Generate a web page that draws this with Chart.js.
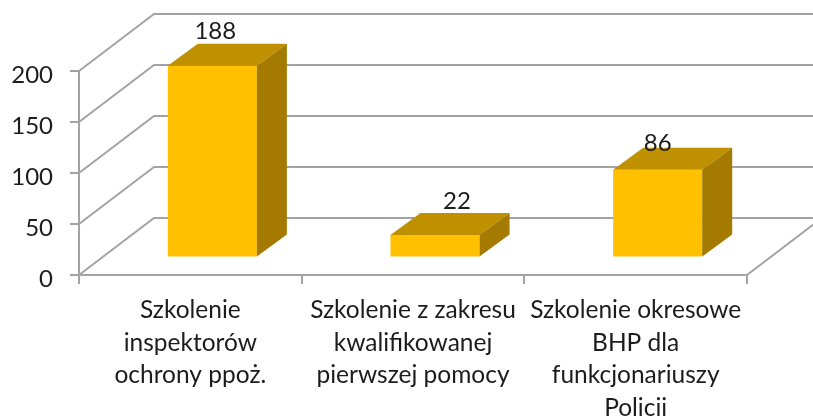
<!DOCTYPE html>
<html><head><meta charset="utf-8">
<style>html,body{margin:0;padding:0;background:#fff}canvas{display:block}</style>
<script src="https://cdn.jsdelivr.net/npm/chart.js@4"></script>
</head><body><canvas id="c" width="813" height="416"></canvas>
<script>
const categories = [
  ["Szkolenie","inspektorów","ochrony ppoż."],
  ["Szkolenie z zakresu","kwalifikowanej","pierwszej pomocy"],
  ["Szkolenie okresowe","BHP dla","funkcjonariuszy","Policji"]
];
const values = [188, 22, 86];
const yTicks = [0, 50, 100, 150, 200];
const labelShiftX = [3, 22, 0];
const labelShiftY = [-34, -34, -27];

const FONT = 'Lato, sans-serif';
const GRID = '#a3a3a3';
const TEXT = '#1c1c1c';
const depth = {x: 75, y: -57};       // wall depth
const barOffset = {x: 22, y: -17.5}; // bar position inside the floor
const barDepth = {x: 30, y: -22};

const poly = (ctx, pts, fill) => {
  ctx.beginPath();
  pts.forEach((p, i) => i ? ctx.lineTo(p[0], p[1]) : ctx.moveTo(p[0], p[1]));
  ctx.closePath(); ctx.fillStyle = fill; ctx.fill();
};

const walls = {
  id: 'walls',
  beforeDraw(chart) {
    const s = chart.scales.y;
    if (!s._shifted) {
      const orig = s.drawLabels.bind(s);
      s.drawLabels = area => {
        chart.ctx.save(); chart.ctx.translate(0, 4);
        orig(area);
        chart.ctx.restore();
      };
      s._shifted = true;
    }
  },
  beforeDatasetsDraw(chart) {
    const {ctx, chartArea: a, scales: {y}} = chart;
    ctx.save();
    ctx.strokeStyle = GRID; ctx.lineWidth = 2;
    ctx.beginPath();
    yTicks.forEach(t => {
      const py = y.getPixelForValue(t);
      ctx.moveTo(a.left, py);
      ctx.lineTo(a.left + depth.x, py + depth.y);
      ctx.lineTo(chart.width, py + depth.y);
    });
    const by = y.getPixelForValue(0);
    ctx.moveTo(a.right, by);
    ctx.lineTo(a.right + depth.x, by + depth.y);
    ctx.stroke();
    ctx.restore();
    ctx.save();
    ctx.translate(barOffset.x, barOffset.y);
  },
  afterDatasetsDraw(chart) {
    const {ctx} = chart;
    const meta = chart.getDatasetMeta(0);
    meta.data.forEach(bar => {
      const l = bar.x - bar.width / 2, r = bar.x + bar.width / 2;
      const t = bar.y, b = bar.base;
      const d = barDepth;
      poly(ctx, [[l,t],[r,t],[r+d.x,t+d.y],[l+d.x,t+d.y]], '#BF9000');
      poly(ctx, [[r,t],[r+d.x,t+d.y],[r+d.x,b+d.y],[r,b]], '#A47A00');
    });
    ctx.restore();
    ctx.save();
    ctx.fillStyle = TEXT;
    ctx.font = '24px ' + FONT;
    ctx.textAlign = 'center'; ctx.textBaseline = 'middle';
    meta.data.forEach((bar, i) => {
      ctx.fillText(String(values[i]),
        bar.x + barOffset.x + labelShiftX[i],
        bar.y + barOffset.y + labelShiftY[i]);
    });
    ctx.restore();
  }
};

new Chart(document.getElementById('c'), {
  type: 'bar',
  data: {labels: categories, datasets: [{
    data: values, backgroundColor: '#FFC000', borderWidth: 0,
    barPercentage: 0.4, categoryPercentage: 1
  }]},
  options: {
    responsive: false, animation: false, clip: false,
    layout: {padding: {top: 71, right: 66, left: 0, bottom: 0}},
    plugins: {legend: {display: false}, tooltip: {enabled: false}},
    scales: {
      x: {
        grid: {drawOnChartArea: false, color: GRID, lineWidth: 2, tickLength: 9, offset: true},
        border: {color: GRID, width: 2},
        ticks: {color: TEXT, font: {family: FONT, size: 24.5, lineHeight: 1.33}, maxRotation: 0, autoSkip: false, padding: 10},
        afterFit(s) { s.height = 141; }
      },
      y: {
        min: 0, max: 200,
        grid: {drawOnChartArea: false, color: GRID, lineWidth: 2, tickLength: 9},
        border: {color: GRID, width: 2},
        ticks: {stepSize: 50, color: TEXT, font: {family: FONT, size: 24}, padding: 17},
        afterFit(s) { s.width = 79; }
      }
    }
  },
  plugins: [walls]
});
</script></body></html>
